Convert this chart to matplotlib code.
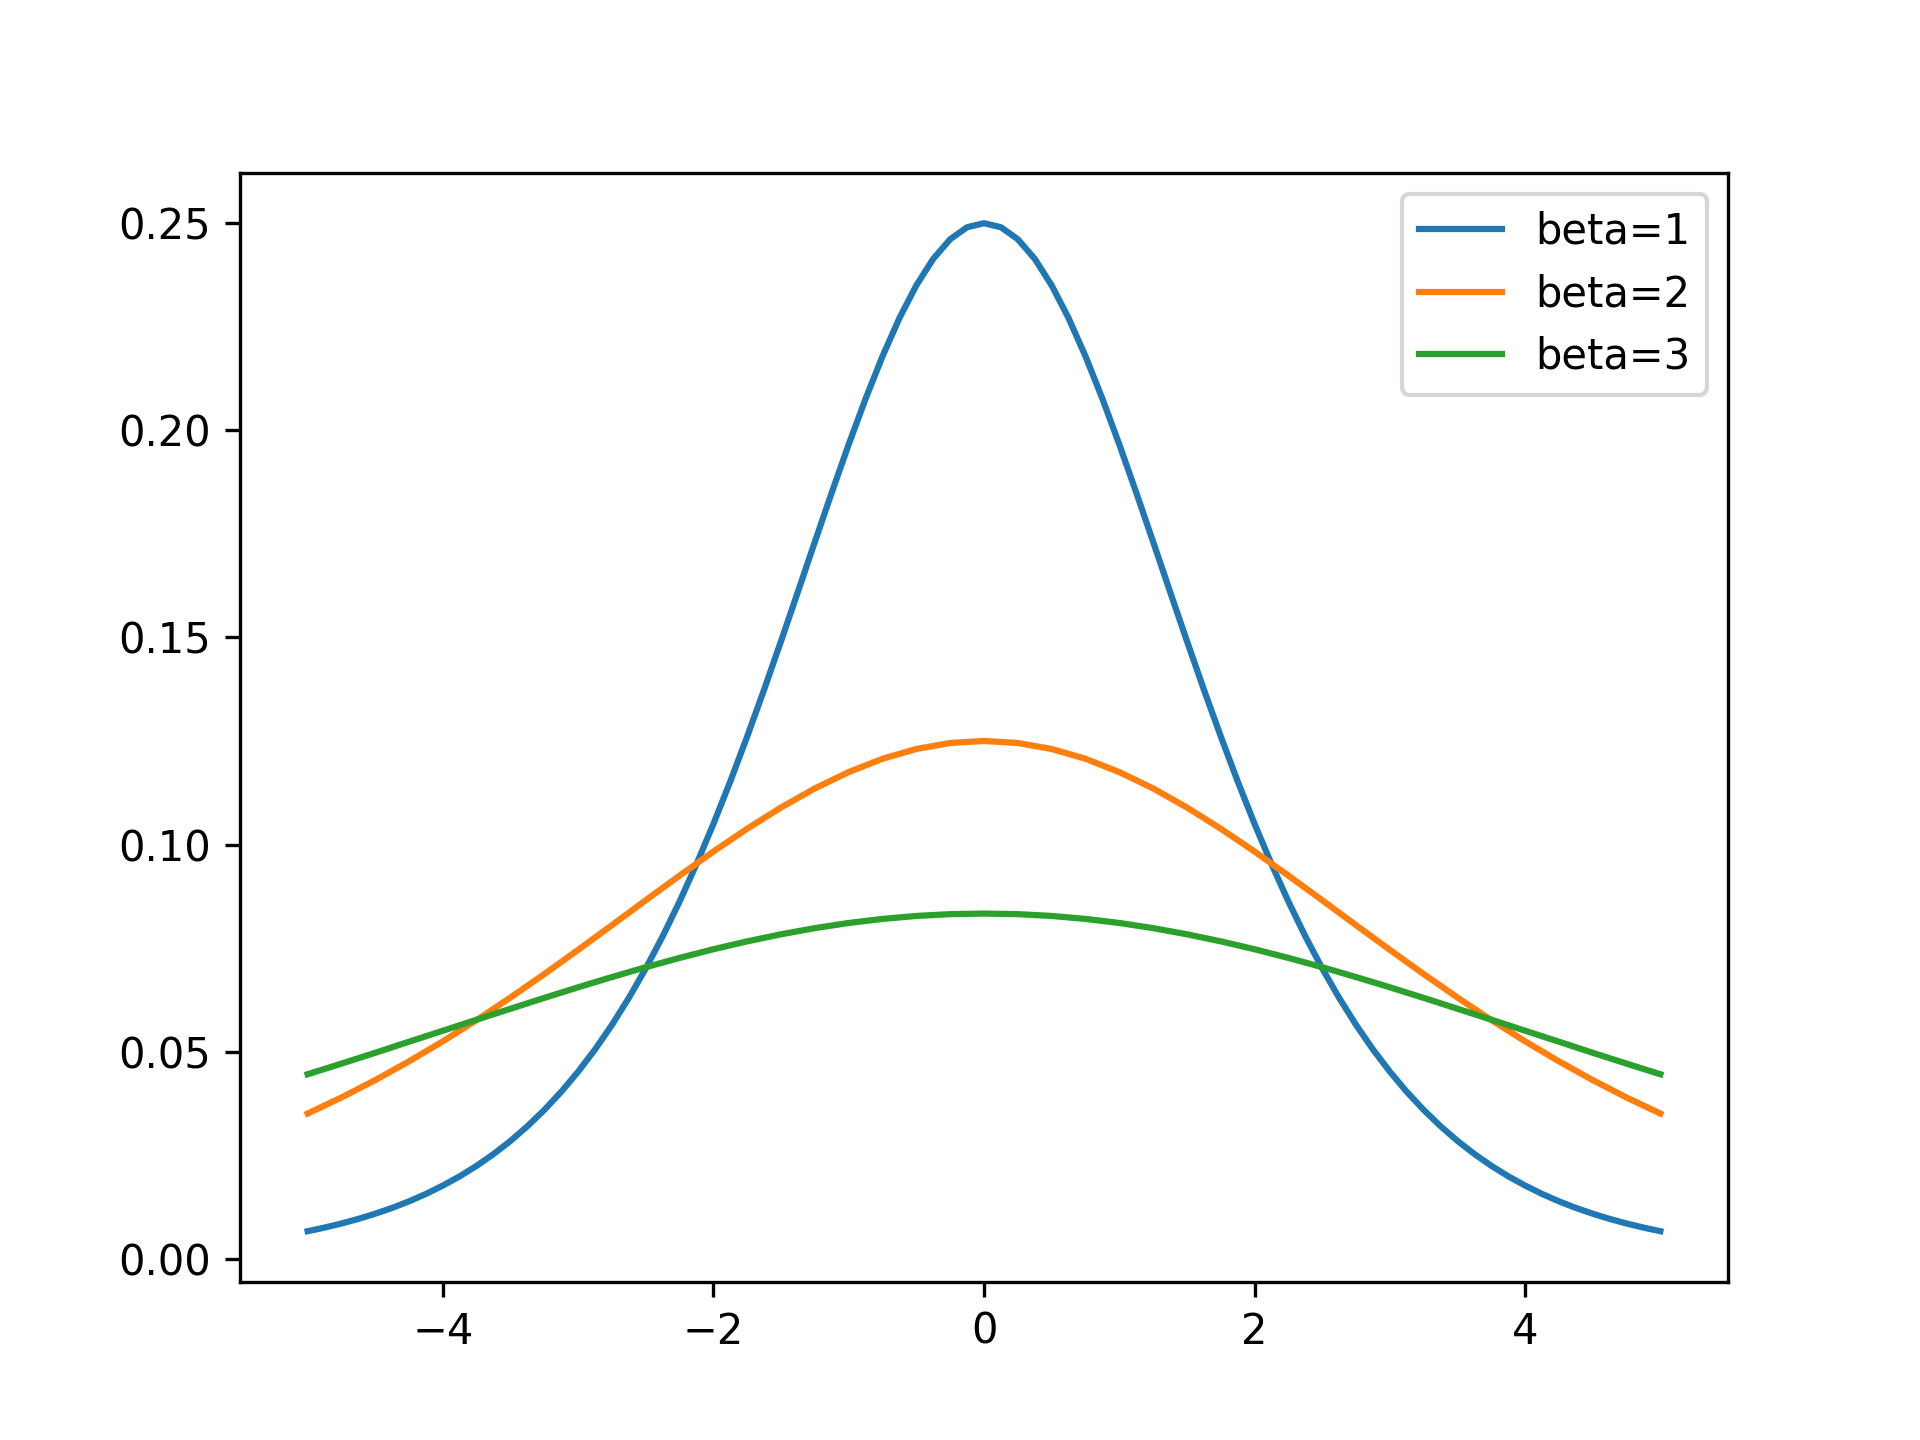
import matplotlib.pyplot as plt

# x positions
x_fine = [i * 0.125 - 5 for i in range(81)]   # beta=1 (sharper curve, finer sampling)
x = [i * 0.25 - 5 for i in range(41)]         # beta=2, beta=3

# right half of each curve (x = 0 .. 5); curves are symmetric
half_b1 = [0.25000, 0.24903, 0.24613, 0.24141, 0.23500, 0.22710, 0.21789, 0.20765,
           0.19661, 0.18501, 0.17311, 0.16108, 0.14915, 0.13745, 0.12613, 0.11528,
           0.10499, 0.09531, 0.08626, 0.07786, 0.07011, 0.06299, 0.05648, 0.05055,
           0.04518, 0.04032, 0.03594, 0.03200, 0.02845, 0.02529, 0.02245, 0.01992,
           0.01767, 0.01566, 0.01386, 0.01228, 0.01087, 0.00962, 0.00851, 0.00752,
           0.00665]
half_b2 = [0.12500, 0.12452, 0.12307, 0.12071, 0.11750, 0.11355, 0.10895, 0.10383,
           0.09831, 0.09251, 0.08656, 0.08054, 0.07458, 0.06873, 0.06307, 0.05764,
           0.05250, 0.04766, 0.04313, 0.03893, 0.03506]
half_b3 = [0.08333, 0.08319, 0.08276, 0.08204, 0.08106, 0.07982, 0.07833, 0.07663,
           0.07472, 0.07263, 0.07039, 0.06801, 0.06554, 0.06298, 0.06036, 0.05772,
           0.05505, 0.05240, 0.04972, 0.04711, 0.04454]

labels = ['beta=1', 'beta=2', 'beta=3']

def full(half):
    return half[:0:-1] + half

plt.figure(figsize=(6.4, 4.8))
plt.plot(x_fine, full(half_b1), label=labels[0])
plt.plot(x, full(half_b2), label=labels[1])
plt.plot(x, full(half_b3), label=labels[2])
plt.legend(loc='upper right')
plt.savefig('out.png', dpi=300)
plt.close()
